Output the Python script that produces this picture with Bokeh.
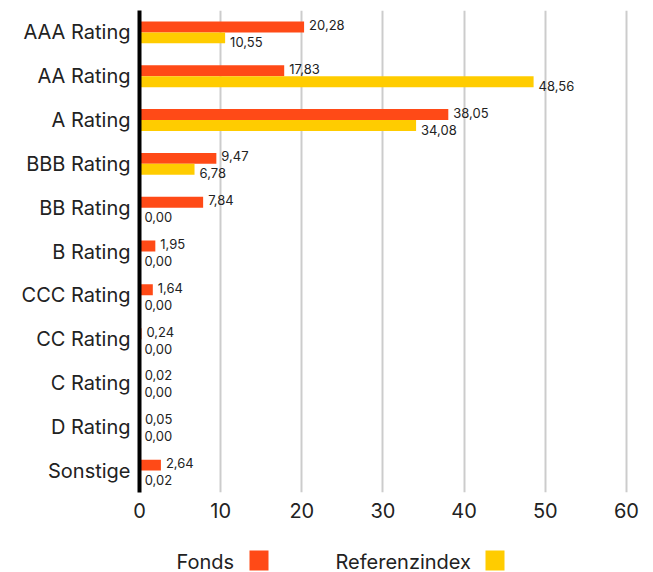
from bokeh.plotting import figure
from bokeh.layouts import column
from bokeh.models import ColumnDataSource, FixedTicker
from bokeh.core.properties import value
from bokeh.embed import file_html
from bokeh.resources import INLINE

categories = ["AAA Rating", "AA Rating", "A Rating", "BBB Rating", "BB Rating", "B Rating",
              "CCC Rating", "CC Rating", "C Rating", "D Rating", "Sonstige"]
fonds = [20.28, 17.83, 38.05, 9.47, 7.84, 1.95, 1.64, 0.24, 0.02, 0.05, 2.64]
referenz = [10.55, 48.56, 34.08, 6.78, 0.00, 0.00, 0.00, 0.00, 0.00, 0.00, 0.02]
x_ticks = [0, 10, 20, 30, 40, 50, 60]
series_names = ["Fonds", "Referenzindex"]

ORANGE = "#FF4A17"
YELLOW = "#FFCC00"
FONT = "Inter"
TXT = "#222222"
W = 653
H_MAIN, H_LEG = 530, 42
BL, BR = 139, 23

def fmt(v):
    return f"{v:.2f}".replace(".", ",")

idx = list(range(len(categories)))
bh = 0.25
src_f = ColumnDataSource(dict(y=[i - bh / 2 for i in idx], v=fonds, lab=[fmt(v) for v in fonds]))
src_r = ColumnDataSource(dict(y=[i + bh / 2 for i in idx], v=referenz, lab=[fmt(v) for v in referenz]))

p = figure(width=W, height=H_MAIN, output_backend="svg", toolbar_location=None,
           x_range=(0, 60.5), y_range=(len(categories) - 0.5, -0.5),
           min_border_left=BL, min_border_right=BR, min_border_top=10, min_border_bottom=38)
p.outline_line_color = None
p.background_fill_color = "white"
p.border_fill_color = "white"

p.hbar(y="y", right="v", left=0, height=bh, source=src_f, color=ORANGE, line_color=None)
p.hbar(y="y", right="v", left=0, height=bh, source=src_r, color=YELLOW, line_color=None)

p.text(x="v", y="y", text="lab", source=src_f, x_offset=5, y_offset=-2,
       text_font=value(FONT), text_font_size="13px", text_color=TXT,
       text_baseline="middle", text_align="left")
p.text(x="v", y="y", text="lab", source=src_r, x_offset=5, y_offset=4,
       text_font=value(FONT), text_font_size="13px", text_color=TXT,
       text_baseline="middle", text_align="left")

# x axis
p.xaxis.ticker = FixedTicker(ticks=x_ticks)
p.xaxis.axis_line_color = None
p.xaxis.major_tick_line_color = None
p.xaxis.minor_tick_line_color = None
p.xaxis.major_label_text_font = FONT
p.xaxis.major_label_text_font_size = "20px"
p.xaxis.major_label_text_color = TXT
p.xaxis.major_label_standoff = 4

# y axis
p.yaxis.ticker = FixedTicker(ticks=idx)
p.yaxis.major_label_overrides = {i: c for i, c in zip(idx, categories)}
p.yaxis.axis_line_color = "black"
p.yaxis.axis_line_width = 4
p.yaxis.major_tick_line_color = None
p.yaxis.minor_tick_line_color = None
p.yaxis.major_label_text_font = FONT
p.yaxis.major_label_text_font_size = "20px"
p.yaxis.major_label_text_color = TXT
p.yaxis.major_label_standoff = 3

p.xgrid.grid_line_color = "#cccccc"
p.xgrid.grid_line_width = 2
p.ygrid.grid_line_color = None

# legend strip (label followed by square); ranges in canvas pixels
leg = figure(width=W, height=H_LEG, output_backend="svg", toolbar_location=None,
             x_range=(BL, W - BR), y_range=(H_LEG, 0),
             min_border_left=BL, min_border_right=BR, min_border_top=0, min_border_bottom=0)
leg.axis.visible = False
leg.grid.visible = False
leg.outline_line_color = None
leg.background_fill_color = "white"
leg.border_fill_color = "white"

leg_src = ColumnDataSource(dict(
    tx=[176, 335], ty=[31, 31], name=series_names,
    bx=[258.5, 494.5], by=[30, 30], col=[ORANGE, YELLOW]))
leg.text(x="tx", y="ty", text="name", source=leg_src, text_font=value(FONT),
         text_font_size="20px", text_color=TXT, text_baseline="middle", text_align="left")
leg.rect(x="bx", y="by", width=19, height=20, source=leg_src, fill_color="col", line_color=None)

open("out.html", "w").write(file_html(column(p, leg, spacing=0), INLINE))
